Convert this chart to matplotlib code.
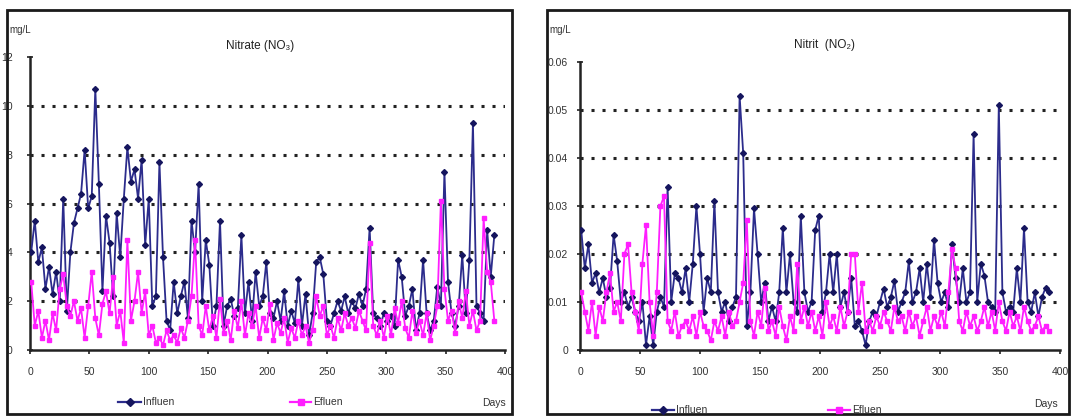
import matplotlib
matplotlib.use("Agg")
import matplotlib.pyplot as plt
from matplotlib.lines import Line2D
from matplotlib.patches import Rectangle

plt.rcParams['font.family'] = ['Liberation Sans Narrow', 'Liberation Sans', 'DejaVu Sans']

# ---------------- data ----------------
days = [1, 4, 7, 10, 13, 16, 19, 22, 25, 28,
        31, 34, 37, 40, 43, 46, 49, 52, 55, 58,
        61, 64, 67, 70, 73, 76, 79, 82, 85, 88,
        91, 94, 97, 100, 103, 106, 109, 112, 115, 118,
        121, 124, 127, 130, 133, 136, 139, 142, 145, 148,
        151, 154, 157, 160, 163, 166, 169, 172, 175, 178,
        181, 184, 187, 190, 193, 196, 199, 202, 205, 208,
        211, 214, 217, 220, 223, 226, 229, 232, 235, 238,
        241, 244, 247, 250, 253, 256, 259, 262, 265, 268,
        271, 274, 277, 280, 283, 286, 289, 292, 295, 298,
        301, 304, 307, 310, 313, 316, 319, 322, 325, 328,
        331, 334, 337, 340, 343, 346, 349, 352, 355, 358,
        361, 364, 367, 370, 373, 376, 379, 382, 385, 388,
        391]

nitrate_influen = [4.0, 5.3, 3.6, 4.2, 2.5, 3.4, 2.3, 3.2, 2.0, 6.2,
                   1.6, 4.0, 5.2, 5.8, 6.4, 8.2, 5.8, 6.3, 10.7, 6.8,
                   2.4, 5.5, 4.4, 2.2, 5.6, 3.8, 6.2, 8.3, 6.9, 7.4,
                   6.2, 7.8, 4.3, 6.2, 1.8, 2.2, 7.7, 3.8, 1.2, 0.8,
                   2.8, 1.5, 2.2, 2.8, 1.3, 5.3, 4.0, 6.8, 2.0, 4.5,
                   3.5, 1.0, 1.8, 5.3, 1.0, 1.8, 2.1, 1.4, 1.7, 4.7,
                   1.5, 2.8, 1.2, 3.2, 1.8, 2.2, 3.6, 1.5, 1.3, 2.0,
                   1.2, 2.4, 1.0, 1.6, 1.1, 2.9, 1.0, 2.3, 0.6, 1.5,
                   3.6, 3.8, 3.1, 1.2, 1.0, 1.5, 2.0, 1.6, 2.2, 1.5,
                   2.0, 1.7, 2.3, 1.8, 2.5, 5.0, 1.5, 1.3, 1.0, 1.5,
                   1.2, 1.4, 1.0, 3.7, 3.0, 1.4, 1.8, 2.5, 0.8, 1.5,
                   3.7, 1.5, 0.8, 1.2, 2.6, 1.8, 7.3, 2.8, 1.5, 1.0,
                   1.8, 3.9, 1.5, 3.7, 9.3, 1.8, 1.5, 1.2, 4.9, 3.0,
                   4.7]

nitrate_efluen = [2.8, 1.0, 1.6, 0.5, 1.2, 0.4, 1.5, 0.8, 2.5, 3.1,
                  1.8, 1.4, 2.0, 1.2, 1.7, 0.5, 1.8, 3.2, 1.3, 0.6,
                  1.9, 2.4, 1.5, 3.0, 1.0, 1.6, 0.3, 4.5, 1.2, 2.0,
                  3.2, 1.5, 2.4, 0.6, 1.0, 0.3, 0.5, 0.2, 0.8, 0.4,
                  0.6, 0.3, 0.9, 0.5, 1.2, 2.2, 4.5, 1.0, 0.6, 1.8,
                  0.8, 1.4, 0.5, 2.1, 0.7, 1.2, 0.4, 1.6, 0.9, 2.0,
                  0.6, 1.5, 1.0, 1.8, 0.5, 1.3, 0.8, 1.9, 0.4, 1.1,
                  0.7, 1.3, 0.3, 0.9, 0.5, 1.2, 0.6, 1.0, 0.3, 0.8,
                  2.2, 1.4, 1.8, 0.6, 1.0, 0.5, 1.3, 0.8, 1.5, 1.0,
                  1.3, 0.9, 1.6, 1.2, 0.8, 4.4, 1.0, 0.6, 1.2, 0.5,
                  1.4, 0.6, 1.7, 1.1, 2.0, 0.9, 0.5, 1.6, 0.7, 1.2,
                  0.6, 1.5, 0.4, 1.0, 1.8, 6.1, 2.5, 1.2, 1.6, 0.7,
                  2.0, 1.3, 2.4, 1.0, 1.6, 0.8, 1.2, 5.4, 3.2, 2.8,
                  1.2]

nitrite_influen = [0.025, 0.017, 0.022, 0.014, 0.016, 0.012, 0.015, 0.011, 0.013, 0.024,
                   0.0185, 0.010, 0.012, 0.009, 0.011, 0.008, 0.006, 0.010, 0.001, 0.007,
                   0.001, 0.008, 0.011, 0.009, 0.034, 0.010, 0.016, 0.015, 0.012, 0.017,
                   0.010, 0.018, 0.030, 0.020, 0.008, 0.015, 0.012, 0.031, 0.012, 0.008,
                   0.010, 0.006, 0.009, 0.011, 0.053, 0.041, 0.005, 0.012, 0.0295, 0.020,
                   0.010, 0.014, 0.006, 0.009, 0.006, 0.012, 0.0254, 0.012, 0.020, 0.010,
                   0.008, 0.028, 0.012, 0.008, 0.010, 0.025, 0.028, 0.008, 0.012, 0.020,
                   0.012, 0.020, 0.009, 0.012, 0.008, 0.015, 0.005, 0.006, 0.004, 0.001,
                   0.006, 0.008, 0.007, 0.010, 0.0128, 0.009, 0.011, 0.0144, 0.008, 0.010,
                   0.012, 0.0185, 0.010, 0.012, 0.017, 0.010, 0.018, 0.011, 0.023, 0.014,
                   0.010, 0.012, 0.009, 0.022, 0.015, 0.010, 0.017, 0.010, 0.012, 0.045,
                   0.010, 0.018, 0.0155, 0.010, 0.009, 0.008, 0.051, 0.012, 0.008, 0.009,
                   0.008, 0.017, 0.010, 0.0254, 0.010, 0.008, 0.012, 0.007, 0.011, 0.013,
                   0.012]

nitrite_efluen = [0.012, 0.008, 0.004, 0.010, 0.003, 0.009, 0.006, 0.012, 0.016, 0.008,
                  0.010, 0.006, 0.020, 0.022, 0.012, 0.008, 0.004, 0.018, 0.026, 0.010,
                  0.003, 0.012, 0.030, 0.032, 0.006, 0.004, 0.008, 0.003, 0.005, 0.006,
                  0.004, 0.007, 0.003, 0.008, 0.005, 0.004, 0.002, 0.006, 0.004, 0.007,
                  0.003, 0.008, 0.005, 0.006, 0.010, 0.014, 0.027, 0.006, 0.003, 0.008,
                  0.005, 0.013, 0.004, 0.006, 0.003, 0.009, 0.005, 0.002, 0.007, 0.004,
                  0.018, 0.006, 0.009, 0.005, 0.008, 0.004, 0.007, 0.003, 0.010, 0.005,
                  0.007, 0.004, 0.009, 0.005, 0.008, 0.020, 0.020, 0.008, 0.014, 0.004,
                  0.006, 0.004, 0.007, 0.005, 0.008, 0.006, 0.004, 0.009, 0.006, 0.007,
                  0.004, 0.008, 0.005, 0.007, 0.003, 0.006, 0.009, 0.004, 0.007, 0.005,
                  0.008, 0.005, 0.012, 0.021, 0.017, 0.006, 0.004, 0.008, 0.005, 0.007,
                  0.004, 0.006, 0.009, 0.005, 0.008, 0.004, 0.010, 0.006, 0.004, 0.008,
                  0.005, 0.007, 0.004, 0.009, 0.006, 0.004, 0.005, 0.007, 0.004, 0.005,
                  0.004]

x_ticks = [0, 50, 100, 150, 200, 250, 300, 350, 400]
nitrate_yticks = [0, 2, 4, 6, 8, 10, 12]
nitrate_ylabels = ['0', '2', '4', '6', '8', '10', '12']
nitrite_yticks = [0, 0.01, 0.02, 0.03, 0.04, 0.05, 0.06]
nitrite_ylabels = ['0', '0.01', '0.02', '0.03', '0.04', '0.05', '0.06']
titles = ['Nitrate (NO\u2083)', 'Nitrit  (NO\u2082)']
legend_labels = ['Influen', 'Efluen']
unit_label = 'mg/L'
x_label = 'Days'

# ---------------- figure ----------------
W, H = 1073, 416
fig = plt.figure(figsize=(W / 100, H / 100), dpi=100)


def fx(px):
    return px / W


def fy(py):
    return 1 - py / H


INF_LINE = '#2c2c8c'
INF_MARK = '#15155e'
EFF = '#ff1eff'
TXT = '#333333'

# panel borders
for (x0, y0, x1, y1) in [(7, 10, 512, 414), (547, 10, 1069, 414)]:
    fig.add_artist(Rectangle((fx(x0), fy(y1)), fx(x1) - fx(x0), fy(y0) - fy(y1),
                             transform=fig.transFigure, fill=False,
                             edgecolor='#1a1a1a', linewidth=2.0))

panels = [
    dict(rect=[fx(30), fy(350), fx(505) - fx(30), fy(57) - fy(350)],
         inf=nitrate_influen, eff=nitrate_efluen, yt=nitrate_yticks,
         yl=nitrate_ylabels, ymax=12, pad=10, title=titles[0], tx=260, ty=46,
         unit=(9, 30), leg_y=402, leg=[(118, 141, 143), (290, 311, 313)], days=(482, 403)),
    dict(rect=[fx(580), fy(350), fx(1060) - fx(580), fy(62) - fy(350)],
         inf=nitrite_influen, eff=nitrite_efluen, yt=nitrite_yticks,
         yl=nitrite_ylabels, ymax=0.06, pad=6, title=titles[1], tx=825, ty=45,
         unit=(549, 30), leg_y=410, leg=[(652, 674, 676), (828, 850, 852)], days=(1034, 404)),
]

for p in panels:
    ax = fig.add_axes(p['rect'])
    ax.set_xlim(0, 400)
    ax.set_ylim(0, p['ymax'])
    for v in p['yt'][1:-1]:
        ax.axhline(v, color='#222222', lw=2.2, ls=(0, (1, 2.6)), zorder=1)
    ax.plot(days, p['inf'], color=INF_LINE, lw=1.3, marker='D', ms=3.0,
            mfc=INF_MARK, mec=INF_MARK, zorder=3)
    ax.plot(days, p['eff'], color=EFF, lw=1.3, marker='s', ms=2.8,
            mfc=EFF, mec=EFF, zorder=4)
    for s in ['top', 'right']:
        ax.spines[s].set_visible(False)
    for s in ['left', 'bottom']:
        ax.spines[s].set_linewidth(1.8)
        ax.spines[s].set_color('#222222')
    ax.set_yticks(p['yt'])
    ax.set_yticklabels(p['yl'])
    ax.set_xticks(x_ticks)
    ax.set_xticklabels([str(t) for t in x_ticks])
    ax.tick_params(axis='y', direction='inout', length=5, width=1.2,
                   colors='#222222', labelcolor=TXT, labelsize=7.5, pad=p['pad'])
    ax.tick_params(axis='x', direction='out', length=3, width=1.2,
                   colors='#222222', labelcolor=TXT, labelsize=7.5, pad=9)
    ax.patch.set_alpha(0)

    fig.text(fx(p['tx']), fy(p['ty']), p['title'], ha='center', va='center',
             fontsize=8.5, color='#222222')
    fig.text(fx(p['unit'][0]), fy(p['unit'][1]), unit_label, ha='left', va='center',
             fontsize=7, color=TXT)
    fig.text(fx(p['days'][0]), fy(p['days'][1]), x_label, ha='left', va='center',
             fontsize=7.5, color=TXT)

    # legend entries
    for (x0, x1, xt), lab, col, mk, mc, ms in [
            (p['leg'][0], legend_labels[0], INF_LINE, 'D', INF_MARK, 4),
            (p['leg'][1], legend_labels[1], EFF, 's', EFF, 4)]:
        y = fy(p['leg_y'])
        fig.add_artist(Line2D([fx(x0), fx((x0 + x1) / 2), fx(x1)], [y, y, y],
                              transform=fig.transFigure, color=col, lw=1.6,
                              marker=mk, markevery=[1], ms=ms, mfc=mc, mec=mc))
        fig.text(fx(xt), y, lab, ha='left', va='center', fontsize=7.5, color=TXT)

fig.savefig('out.png', dpi=100)
